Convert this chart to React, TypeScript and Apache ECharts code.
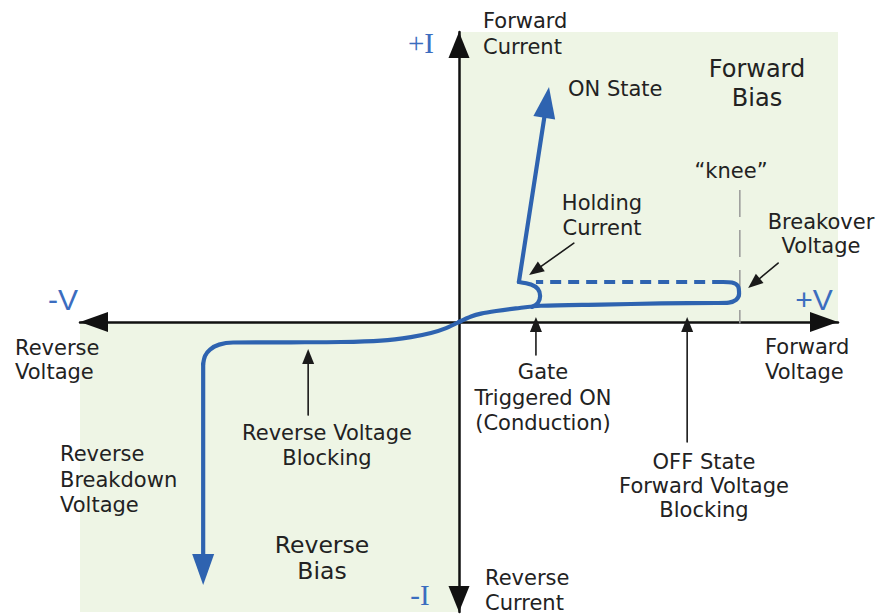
import React, { useEffect, useRef } from "react";
import * as echarts from "echarts";

// Voltage (x) and current (y) in relative units, -100..100 on both axes
const offStateV = [0, 3.2, 5.8, 9.8, 15.0, 21.6, 37.5, 53.3, 67.8, 71.2, 73.1, 73.9, 73.6, 72.0, 69.7];
const offStateI = [0, 1.9, 2.9, 3.8, 4.7, 5.6, 6.0, 6.4, 6.55, 6.7, 7.6, 9.7, 12.4, 13.6, 13.8];
const holdingV = [19.3, 20.8, 21.4, 20.8, 19.0, 15.8];
const holdingI = [5.2, 6.55, 9.0, 11.4, 12.9, 13.8];
const latchV = [69.7, 20.3];
const latchI = [13.8, 13.8];
const reverseV = [0, -3.4, -7.4, -12.7, -20.6, -31.1, -44.3, -59.6, -63.3, -65.7, -67.0, -67.5];
const reverseI = [0, -2.1, -3.8, -5.2, -6.4, -6.9, -7.0, -7.07, -7.8, -9.5, -11.7, -14.5];
const kneeV = [74.1, 74.1];
const kneeI = [45.5, -0.5];
// curve arrows: [fromV, fromI, toV, toI]
const curveArrows = [
  [15.8, 13.8, 23.75, 81.0],
  [-67.5, -14.5, -67.5, -90.7],
];
// annotation pointers: [fromV, fromI, toV, toI]
const pointerArrows = [
  [30.3, 27.2, 18.5, 16.2],
  [84.2, 20.3, 76.3, 11.7],
  [20.3, -11.4, 20.3, 1.7],
  [60.2, -41.4, 60.2, 1.7],
  [-39.8, -32.1, -39.8, -9.3],
];
const axisMin = -100;
const axisMax = 100;

const BLUE = "#2e63b0";
const GREEN = "#eef5e5";
const TXT = "#222";
const FONT = "DejaVu Sans";

const zip = (a: number[], b: number[]) => a.map((v, i) => [v, b[i]]);

function arrowRenderer(color: string, lw: number, headW: number, headL: number) {
  return (params: any, api: any) => {
    const p1 = api.coord([api.value(0), api.value(1)]);
    const p2 = api.coord([api.value(2), api.value(3)]);
    const dx = p2[0] - p1[0];
    const dy = p2[1] - p1[1];
    const len = Math.hypot(dx, dy) || 1;
    const ux = dx / len;
    const uy = dy / len;
    const bx = p2[0] - ux * headL;
    const by = p2[1] - uy * headL;
    const nx = -uy;
    const ny = ux;
    return {
      type: "group",
      children: [
        {
          type: "line",
          shape: { x1: p1[0], y1: p1[1], x2: bx + ux * 2, y2: by + uy * 2 },
          style: { stroke: color, lineWidth: lw, lineCap: "round" },
        },
        {
          type: "polygon",
          shape: {
            points: [
              [p2[0], p2[1]],
              [bx + (nx * headW) / 2, by + (ny * headW) / 2],
              [bx - (nx * headW) / 2, by - (ny * headW) / 2],
            ],
          },
          style: { fill: color },
        },
      ],
    };
  };
}

function txt(text: string, x: number, y: number, align: string, opts: any = {}) {
  return {
    type: "text",
    x,
    y,
    z: 10,
    style: {
      text,
      textAlign: align,
      textVerticalAlign: "middle",
      fontFamily: opts.family || FONT,
      fontSize: opts.size || 21,
      lineHeight: opts.lh || 25,
      fill: opts.fill || TXT,
    },
  };
}

export default function App() {
  const ref = useRef<HTMLDivElement>(null);
  useEffect(() => {
    if (!ref.current) return;
    const chart = echarts.init(ref.current, null, { renderer: "svg" });
    const axisCommon = {
      type: "value",
      min: axisMin,
      max: axisMax,
      z: 3,
      splitLine: { show: false },
      axisTick: { show: false },
      axisLabel: { show: false },
      axisLine: {
        show: true,
        onZero: true,
        symbol: ["triangle", "triangle"],
        lineStyle: { color: "#111", width: 2.5 },
      },
    };
    const blueLine = { color: BLUE, width: 4.2, cap: "round", join: "round" };
    chart.setOption({
      animation: false,
      backgroundColor: "#fff",
      grid: { left: 80, right: 39, top: 32, bottom: 3 },
      xAxis: {
        ...axisCommon,
        axisLine: { ...axisCommon.axisLine, symbolSize: [20, 28], symbolOffset: [14, -14] },
      },
      yAxis: {
        ...axisCommon,
        axisLine: { ...axisCommon.axisLine, symbolSize: [21, 26], symbolOffset: [13, -13] },
      },
      series: [
        {
          type: "line",
          name: "quadrants",
          data: [],
          silent: true,
          markArea: {
            silent: true,
            itemStyle: { color: GREEN },
            data: [
              [{ coord: [0, 0] }, { coord: [axisMax, axisMax] }],
              [{ coord: [axisMin, axisMin] }, { coord: [0, 0] }],
            ],
          },
        },
        {
          type: "line",
          name: "knee",
          z: 3,
          data: zip(kneeV, kneeI),
          symbol: "none",
          lineStyle: { color: "#999", width: 1.5, type: [27, 13] },
        },
        {
          type: "line",
          name: "off",
          z: 4,
          data: zip(offStateV, offStateI),
          symbol: "none",
          smooth: 0.3,
          lineStyle: blueLine,
        },
        {
          type: "line",
          name: "holding",
          z: 4,
          data: zip(holdingV, holdingI),
          symbol: "none",
          smooth: 0.3,
          lineStyle: blueLine,
        },
        {
          type: "line",
          name: "latch",
          z: 4,
          data: zip(latchV, latchI),
          symbol: "none",
          lineStyle: { ...blueLine, type: [11, 7], cap: "butt" },
        },
        {
          type: "line",
          name: "reverse",
          z: 4,
          data: zip(reverseV, reverseI),
          symbol: "none",
          smooth: 0.3,
          lineStyle: blueLine,
        },
        {
          type: "custom",
          name: "curveArrows",
          z: 4,
          clip: false,
          data: curveArrows,
          renderItem: arrowRenderer(BLUE, 4.2, 22, 31),
        },
        {
          type: "custom",
          name: "pointers",
          z: 5,
          clip: false,
          data: pointerArrows,
          renderItem: arrowRenderer("#1a1a1a", 1.6, 12, 15),
        },
      ],
      graphic: [
        txt("Forward\nCurrent", 483, 34, "left", { lh: 26 }),
        txt("ON State", 568, 89, "left"),
        txt("Forward\nBias", 757, 83.5, "center", { size: 24, lh: 29 }),
        txt("\u201Cknee\u201D", 731, 171, "center"),
        txt("Holding\nCurrent", 602, 215.5, "center"),
        txt("Breakover\nVoltage", 821, 234, "center", { lh: 24 }),
        txt("Reverse\nVoltage", 15, 360, "left", { lh: 24 }),
        txt("Forward\nVoltage", 765, 359.5, "left"),
        txt("Gate\nTriggered ON\n(Conduction)", 543, 397.5, "center", { lh: 25.5 }),
        txt("Reverse Voltage\nBlocking", 327, 445.5, "center"),
        txt("OFF State\nForward Voltage\nBlocking", 704, 486, "center", { lh: 24 }),
        txt("Reverse\nBreakdown\nVoltage", 60, 479.5, "left", { lh: 25.5 }),
        txt("Reverse\nBias", 322, 558, "center", { size: 23.5, lh: 26 }),
        txt("Reverse\nCurrent", 485, 590.5, "left"),
        txt("+I", 421, 43, "center", { family: "Liberation Serif", size: 29, fill: "#3b6dbf" }),
        txt("-I", 420, 595, "center", { family: "Liberation Serif", size: 29, fill: "#3b6dbf" }),
        txt("-V", 63, 299, "center", { family: "Liberation Sans", size: 30, fill: "#3b6dbf" }),
        txt("+V", 814, 299, "center", { family: "Liberation Sans", size: 30, fill: "#3b6dbf" }),
      ],
    });
    return () => chart.dispose();
  }, []);
  return (
    <div
      ref={ref}
      style={{ position: "absolute", left: 0, top: 0, width: 877, height: 615 }}
    />
  );
}
